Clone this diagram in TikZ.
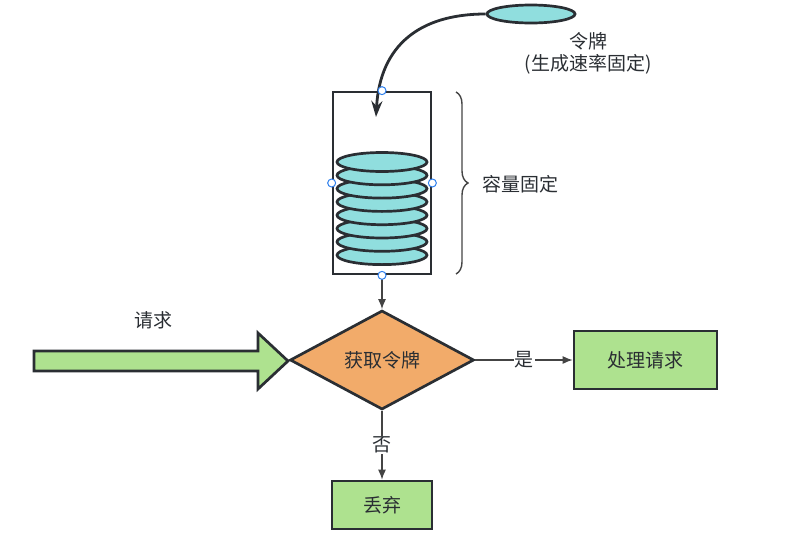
\documentclass[tikz,border=0pt]{standalone}
\usepackage{fontspec}
\setmainfont{Noto Sans CJK SC}
\usetikzlibrary{shapes.geometric,arrows.meta,decorations.pathreplacing}
\definecolor{outl}{HTML}{2A2E33}
\definecolor{teal}{HTML}{90DEDE}
\definecolor{grn}{HTML}{AEE28F}
\definecolor{org}{HTML}{F2AB6A}
\definecolor{hnd}{HTML}{2F80ED}
\definecolor{lin}{HTML}{444444}
\tikzset{
  disk/.style={ellipse, draw=outl, fill=teal, line width=2.7pt, minimum width=90pt, minimum height=19pt, inner sep=0pt},
  boxg/.style={rectangle, draw=outl, fill=grn, line width=2.7pt, inner sep=0pt},
  handle/.style={circle, draw=hnd, fill=white, line width=1pt, minimum size=8pt, inner sep=0pt},
  txt/.style={font=\fontsize{19}{22}\selectfont, text=outl},
  conn/.style={draw=lin, line width=1.2pt, -{Latex[length=10pt,width=8pt]}},
  lbl/.style={txt, fill=white, inner sep=1pt}
}
\begin{document}
\begin{tikzpicture}[x=1pt,y=-1pt]
\useasboundingbox (0,0) rectangle (785,536);
% top token
\node[disk, minimum width=88pt, minimum height=18pt] (tok) at (531,14) {};
\node[txt, align=center] (toklbl) at (588,53) {令牌\\(生成速率固定)};
% container
\node[rectangle, draw=outl, line width=2.7pt, minimum width=98pt, minimum height=182pt, inner sep=0pt] (cont) at (382,183) {};
% disks
\foreach \i in {7,6,...,0} {
  \node[disk] (d\i) at (382,{162+\i*13.3}) {};
}
% curved arrow
\coordinate (tip) at (376,117);
\draw[outl, line width=2.8pt, -{Stealth[length=16pt,width=11pt]}] (tok.west) .. controls (420,14) and (380,45) .. (tip);
% handles
\node[handle] (h1) at (cont.north) {};
\node[handle] (h2) at (cont.west) {};
\node[handle] (h3) at (cont.east) {};
% brace
\coordinate (bt) at (456,92);
\coordinate (bb) at (456,274);
\draw[lin, line width=1.4pt, decorate, decoration={brace, amplitude=12pt}] (bt) -- (bb);
\node[txt, anchor=west] (cap) at (479,184) {容量固定};
% diamond
\node[diamond, draw=outl, fill=org, line width=2.7pt, minimum width=184pt, minimum height=99pt, inner sep=0pt, aspect=1.86] (dia) at (382,360) {};
\node[txt] (dialbl) at (382,360) {获取令牌};
\draw[conn] (cont.south) -- (dia.north);
\node[handle] (h4) at (cont.south) {};
% request arrow
\draw[outl, fill=grn, line width=2.7pt, line join=miter] (34,351) -- (258,351) -- (258,333) -- (288,361) -- (258,389) -- (258,371) -- (34,371) -- cycle;
\node[txt] (req) at (153,320) {请求};
% boxes
\node[boxg, minimum width=143pt, minimum height=58pt, txt] (proc) at (645.5,360) {处理请求};
\node[boxg, minimum width=100pt, minimum height=48pt, txt] (drop) at (382,505) {丢弃};
\draw[conn] (dia.east) -- node[lbl] {是} (proc.west);
\draw[conn] (dia.south) -- node[lbl, pos=0.5] {否} (drop.north);
\end{tikzpicture}
\end{document}
